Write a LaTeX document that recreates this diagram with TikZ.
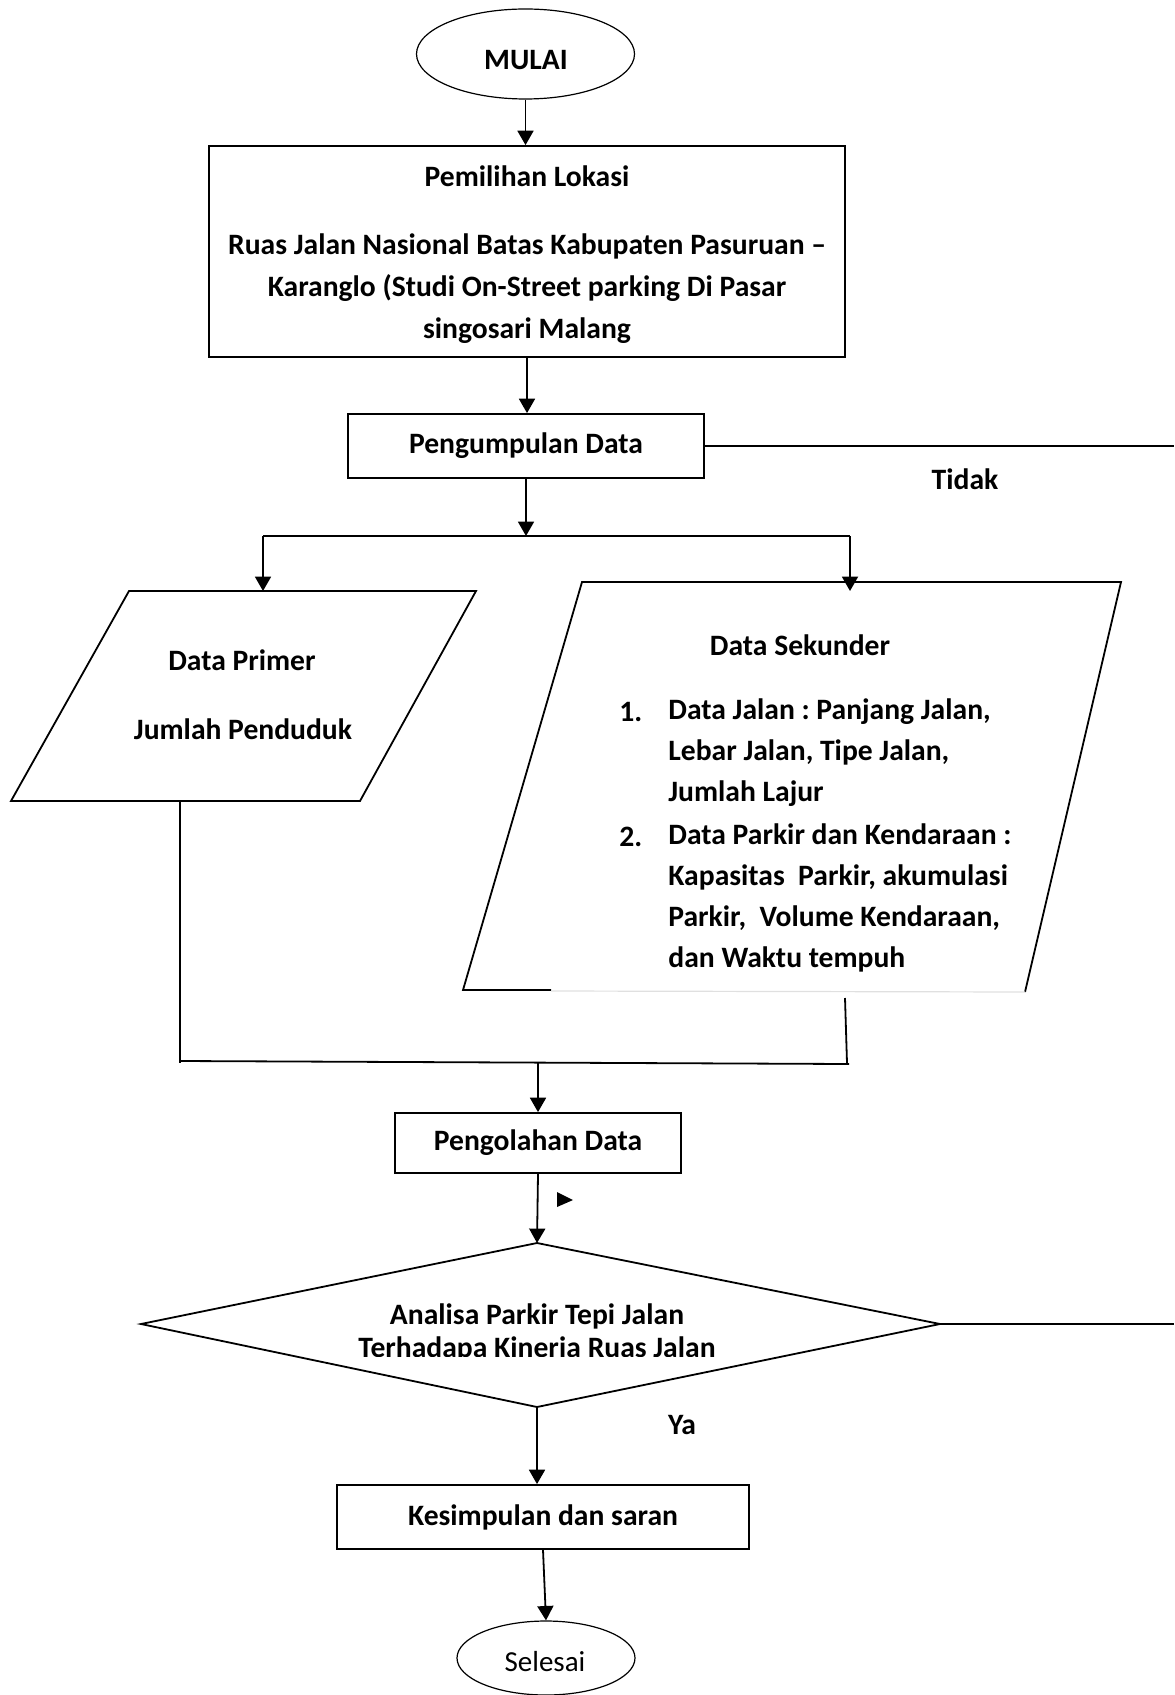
\documentclass[tikz,border=0pt]{standalone}
\usepackage{fontspec}
\setmainfont{Carlito}
\usetikzlibrary{arrows.meta,shapes.geometric}
\frenchspacing
\begin{document}
\begin{tikzpicture}[x=0.5pt,y=-0.5pt,
  arr/.style={-{Triangle[length=7.2pt,width=8pt]}, line width=0.9pt},
  ln/.style={line width=0.9pt},
  fnt/.style={font=\bfseries\fontsize{14.8}{21}\selectfont\frenchspacing},
  box/.style={draw, line width=0.9pt, rectangle, inner sep=0pt, fnt, align=center},
  term/.style={draw, ellipse, line width=0.6pt, inner sep=0pt},
  txt/.style={fnt, inner sep=0pt},
]
\useasboundingbox (0,0) rectangle (1174,1695);

% terminals and boxes
\node[term, minimum width=109pt, minimum height=45pt] (mulai) at (525.5,54) {};
\node[txt] (mulaitxt) at (526,60) {MULAI};
\node[draw, line width=0.9pt, rectangle, minimum width=318pt, minimum height=105.5pt] (pem) at (527,251.5) {};
\node[txt, align=center] (pemtxt) at (527,255)
  {Pemilihan Lokasi\\[13pt]Ruas Jalan Nasional Batas Kabupaten Pasuruan --\\Karanglo (Studi On-Street parking Di Pasar\\singosari Malang};
\node[box, minimum width=178pt, minimum height=32pt] (peng) at (526,446) {Pengumpulan Data};
\node[box, minimum width=143pt, minimum height=30pt] (olah) at (538,1143) {Pengolahan Data};
\node[box, minimum width=206pt, minimum height=32pt] (kes) at (543,1517) {Kesimpulan dan saran};
\node[term, minimum width=89pt, minimum height=37pt] (selesai) at (546,1658) {};
\node[font=\fontsize{14.5}{21}\selectfont, inner sep=0pt] (selesaitxt) at (545,1662) {Selesai};

% coordinates
\coordinate (j1) at (526,536);
\coordinate (bl) at (263,536);
\coordinate (br) at (850,536);
\coordinate (ptop) at (263,591);
\coordinate (stop) at (850,591);
\coordinate (pout) at (180,801);
\coordinate (jl) at (180,1061);
\coordinate (jr) at (849,1064);
\coordinate (sout) at (845,998);
\coordinate (jm) at (538,1063);
\coordinate (dtop) at (537,1243);
\coordinate (dleft) at (141,1324);
\coordinate (dright) at (940,1324);
\coordinate (dbot) at (537,1407);
\coordinate (redge1) at (1174,446);
\coordinate (redge2) at (1174,1324);

% left parallelogram (Data Primer)
\draw[ln] (129,591) -- (476,591) -- (360,801) -- (11,801) -- cycle;
\node[txt] (dp) at (242,660) {Data Primer};
\node[txt] (jp) at (243,729) {Jumlah Penduduk};

% right parallelogram (Data Sekunder)
\draw[ln] (551,990) -- (463,990) -- (582,582) -- (1121,582) -- (1025,992);
\draw[line width=0.6pt, black!12] (551,991) -- (1025,992);
\node[txt] (ds) at (800,645) {Data Sekunder};
\node[txt, anchor=west] (n1) at (619,712) {1.};
\node[txt, anchor=west, align=left, font=\bfseries\fontsize{14.8}{20.5}\selectfont\frenchspacing] (t1) at (668,752.5)
  {Data Jalan : Panjang Jalan,\\Lebar Jalan, Tipe Jalan,\\Jumlah Lajur};
\node[txt, anchor=west] (n2) at (619,837) {2.};
\node[txt, anchor=west, align=left, font=\bfseries\fontsize{14.8}{20.5}\selectfont\frenchspacing] (t2) at (668,897.5)
  {Data Parkir dan Kendaraan :\\Kapasitas~ Parkir, akumulasi\\Parkir,~ Volume Kendaraan,\\dan Waktu tempuh};

% diamond
\draw[ln] (dtop) -- (dright) -- (dbot) -- (dleft) -- cycle;
\node[txt, anchor=base] (d1) at (537,1324) {Analisa Parkir Tepi Jalan};
\begin{scope}
  \clip (141,1330) rectangle (940,1356.5);
  \node[txt, anchor=base] (d2) at (537,1357) {Terhadapa Kinerja Ruas Jalan};
\end{scope}

% labels
\node[txt] (tidak) at (965,479) {Tidak};
\node[txt] (ya) at (682,1425) {Ya};

% connectors
\draw[arr] (mulai.south) -- (mulai.south |- pem.north);
\draw[arr] (pem.south) -- (pem.south |- peng.north);
\draw[arr] (peng.south) -- (j1);
\draw[ln] (bl) -- (br);
\draw[arr] (bl) -- (ptop);
\draw[arr] (br) -- (stop);
\draw[ln] (peng.east) -- (redge1);
\draw[ln] (pout) -- (180,1063);
\draw[ln] (jl) -- (jr);
\draw[ln] (sout) -- (847,1063);
\draw[arr] (jm) -- (olah.north);
\draw[arr] (olah.south) -- (dtop);
\fill (557,1192) -- (573,1200) -- (557,1207) -- cycle;
\draw[ln] (dright) -- (redge2);
\draw[arr] (dbot) -- (dbot |- kes.north);
\draw[arr] (kes.south) -- (selesai.north);
\end{tikzpicture}
\end{document}
